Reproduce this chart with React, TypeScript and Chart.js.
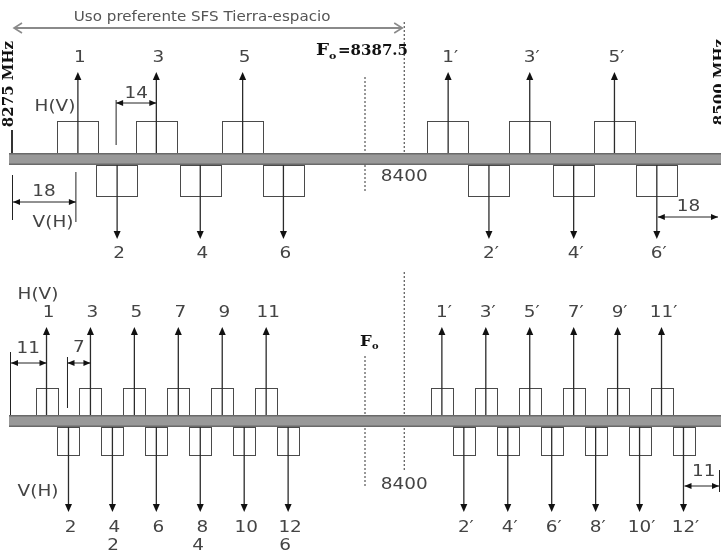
import React, { useEffect, useRef } from 'react';
import { Chart, registerables } from 'chart.js';

Chart.register(...registerables);

// ---- data (MHz) ----
const BAND_EDGES = [8275, 8500];
const CENTER_FREQ = 8387.5;
const MID_FREQ = 8400;
const PREFERRED_SPAN = [8275, 8400];
const PREFERRED_TEXT = 'Uso preferente SFS Tierra-espacio';

// Upper diagram: 14 MHz plan
const topLowerFreqs = [8296, 8308.5, 8321, 8335, 8348.5, 8361.5];
const topUpperFreqs = [8414, 8427, 8440, 8454, 8467, 8480.5];
const topLowerLabels = ['1', '2', '3', '4', '5', '6'];
const topUpperLabels = ['1′', '2′', '3′', '4′', '5′', '6′'];
const topBoxWidth = 13.2;
const topSpacingLabel = '14';
const topEdgeLabel = '18';

// Lower diagram: 7 MHz plan
const bottomLowerFreqs = [8286, 8293, 8300, 8307, 8314, 8321, 8328, 8335, 8342, 8349, 8356, 8363];
const bottomUpperFreqs = [8412, 8419, 8426, 8433, 8440, 8447, 8454, 8461, 8468, 8475, 8482, 8489];
const bottomLowerLabels = ['1', '2', '3', '4', '5', '6', '7', '8', '9', '10', '11', '12'];
const bottomUpperLabels = ['1′', '2′', '3′', '4′', '5′', '6′', '7′', '8′', '9′', '10′', '11′', '12′'];
const bottomBoxWidth = 7;
const bottomSpacingLabel = '7';
const bottomEdgeLabel = '11';
const bottomExtraLabels = ['2', '4', '6'];
const bottomExtraFreqs = [8307.2, 8334.3, 8362];

// ---- layout (vertical levels, in y-scale units) ----
const TOP = { barTop: 153, barBot: 165, upBox: 121, downBox: 196, upTip: 72, downTip: 239, upLabel: 58, downLabel: 254 };
const BOT = { barTop: 415, barBot: 427, upBox: 388, downBox: 455, upTip: 327, downTip: 512, upLabel: 313, downLabel: 528 };

const LINE = '#2b2b2b';
const BOX = '#4a4a4a';
const TEXT = '#444444';
const BAR = '#999999';
const BAR_EDGE = '#6a6a6a';
const SANS = '"DejaVu Sans", Verdana, sans-serif';
const SERIF = '"DejaVu Serif", "Liberation Serif", serif';
const SX = 1.15;

const diagramPlugin = {
  id: 'diagram',
  afterDatasetsDraw(chart: any) {
    const ctx: CanvasRenderingContext2D = chart.ctx;
    const xs = chart.scales.x;
    const ys = chart.scales.y;
    const X = (f: number) => xs.getPixelForValue(f);
    const Y = (v: number) => ys.getPixelForValue(v);
    const W = chart.width;

    const text = (s: string, x: number, y: number, size = 16, color = TEXT, align: CanvasTextAlign = 'center', font = SANS, weight = 'normal', sx = SX) => {
      ctx.save();
      ctx.translate(x, y);
      ctx.scale(sx, 1);
      ctx.font = `${weight} ${size}px ${font}`;
      ctx.fillStyle = color;
      ctx.textAlign = align;
      ctx.textBaseline = 'middle';
      ctx.fillText(s, 0, 0);
      ctx.restore();
    };
    const line = (x1: number, y1: number, x2: number, y2: number, color = LINE, w = 1, dash: number[] = []) => {
      ctx.save();
      ctx.strokeStyle = color;
      ctx.lineWidth = w;
      ctx.setLineDash(dash);
      ctx.beginPath();
      ctx.moveTo(x1, y1);
      ctx.lineTo(x2, y2);
      ctx.stroke();
      ctx.restore();
    };
    const head = (x: number, y: number, dir: 'up' | 'down' | 'left' | 'right', len = 8, half = 3.5) => {
      ctx.save();
      ctx.fillStyle = '#111';
      ctx.beginPath();
      if (dir === 'up') { ctx.moveTo(x, y); ctx.lineTo(x - half, y + len); ctx.lineTo(x + half, y + len); }
      if (dir === 'down') { ctx.moveTo(x, y); ctx.lineTo(x - half, y - len); ctx.lineTo(x + half, y - len); }
      if (dir === 'left') { ctx.moveTo(x, y); ctx.lineTo(x + len, y - half); ctx.lineTo(x + len, y + half); }
      if (dir === 'right') { ctx.moveTo(x, y); ctx.lineTo(x - len, y - half); ctx.lineTo(x - len, y + half); }
      ctx.closePath();
      ctx.fill();
      ctx.restore();
    };
    const dim = (x1: number, x2: number, y: number) => {
      line(x1, y, x2, y, '#222', 1);
      head(x1, y, 'left', 7, 3);
      head(x2, y, 'right', 7, 3);
    };

    const panel = (L: any, lowF: number[], upF: number[], lowLab: string[], upLab: string[], bw: number) => {
      const all = [...lowF.map((f, i) => ({ f, lab: lowLab[i], i })), ...upF.map((f, i) => ({ f, lab: upLab[i], i }))];
      all.forEach(({ f, lab, i }) => {
        const x = X(f);
        const xl = X(f - bw / 2);
        const xr = X(f + bw / 2);
        ctx.save();
        ctx.strokeStyle = BOX;
        ctx.lineWidth = 1;
        if (i % 2 === 0) {
          ctx.strokeRect(Math.round(xl) + 0.5, Y(L.upBox) + 0.5, Math.round(xr - xl), Y(L.barTop) - Y(L.upBox));
          ctx.restore();
          line(x, Y(L.barTop), x, Y(L.upTip) + 6, LINE, 1.3);
          head(x, Y(L.upTip), 'up');
          text(lab, x + 2, Y(L.upLabel));
        } else {
          ctx.strokeRect(Math.round(xl) + 0.5, Y(L.barBot) + 0.5, Math.round(xr - xl), Y(L.downBox) - Y(L.barBot));
          ctx.restore();
          line(x, Y(L.barBot), x, Y(L.downTip) - 6, LINE, 1.3);
          head(x, Y(L.downTip), 'down');
          text(lab, x + 2, Y(L.downLabel));
        }
      });
      const bx = X(BAND_EDGES[0]) - 3;
      ctx.fillStyle = BAR;
      ctx.fillRect(bx, Y(L.barTop), W, Y(L.barBot) - Y(L.barTop));
      ctx.fillStyle = BAR_EDGE;
      ctx.fillRect(bx, Y(L.barTop), W, 1.5);
      ctx.fillRect(bx, Y(L.barBot) - 1.5, W, 1.5);
    };

    // ---------- upper diagram ----------
    line(X(CENTER_FREQ), Y(77), X(CENTER_FREQ), Y(193), '#333', 1, [2, 2]);
    line(X(MID_FREQ), Y(22), X(MID_FREQ), Y(TOP.barTop), '#333', 1, [2, 2]);

    // preferred-use arrow
    const px1 = X(PREFERRED_SPAN[0]) + 2;
    const px2 = X(PREFERRED_SPAN[1]) - 2;
    line(px1, Y(28), px2, Y(28), '#8a8a8a', 2);
    ctx.save();
    ctx.strokeStyle = '#8a8a8a';
    ctx.lineWidth = 1.6;
    ctx.beginPath();
    ctx.moveTo(px1 + 8, Y(23)); ctx.lineTo(px1, Y(28)); ctx.lineTo(px1 + 8, Y(33));
    ctx.moveTo(px2 - 8, Y(23)); ctx.lineTo(px2, Y(28)); ctx.lineTo(px2 - 8, Y(33));
    ctx.stroke();
    ctx.restore();
    text(PREFERRED_TEXT, (px1 + px2) / 2 - 6, Y(17), 14, '#555', 'center', SANS, 'normal', 1.08);

    panel(TOP, topLowerFreqs, topUpperFreqs, topLowerLabels, topUpperLabels, topBoxWidth);

    // band edge marker
    line(X(BAND_EDGES[0]), Y(130), X(BAND_EDGES[0]), Y(TOP.barTop), '#333', 2);

    // F0 label
    const f0x = X(CENTER_FREQ) - 49;
    text('F', f0x, Y(51), 16, '#111', 'left', SERIF, 'bold', 1.15);
    text('o', f0x + 13, Y(56), 10, '#111', 'left', SERIF, 'bold', 1.1);
    text('=8387.5', f0x + 22, Y(51), 15, '#111', 'left', SERIF, 'bold', 1.0);

    // rotated band edge labels
    const vtext = (s: string, x: number, y: number) => {
      ctx.save();
      ctx.translate(x, y);
      ctx.rotate(-Math.PI / 2);
      ctx.font = `bold 15px ${SERIF}`;
      ctx.fillStyle = '#111';
      ctx.textAlign = 'center';
      ctx.textBaseline = 'middle';
      ctx.fillText(s, 0, 0);
      ctx.restore();
    };
    vtext(`${BAND_EDGES[0]} MHz`, X(BAND_EDGES[0]) - 3, Y(84));
    vtext(`${BAND_EDGES[1]} MHz`, X(BAND_EDGES[1]) + 2, Y(82));

    // H(V) / V(H)
    text('H(V)', 55, Y(107));
    text('V(H)', 53, Y(223));

    // 14 MHz spacing dimension
    const c2 = X(topLowerFreqs[1]) - 1;
    const c3 = X(topLowerFreqs[2]);
    line(c2, Y(100), c2, Y(145), '#222', 1);
    dim(c2, c3, Y(103));
    text(topSpacingLabel, (c2 + c3) / 2, Y(94));

    // 18 MHz edge dimensions
    const e0 = X(BAND_EDGES[0]);
    const c1 = X(topLowerFreqs[0]) - 2;
    line(e0 + 0.5, Y(175), e0 + 0.5, Y(220), '#222', 1);
    line(c1, Y(172), c1, Y(222), '#222', 1);
    dim(e0 + 1, c1, Y(202));
    text(topEdgeLabel, (e0 + c1) / 2, Y(192));

    const c6 = X(topUpperFreqs[5]);
    const e1 = X(BAND_EDGES[1]);
    dim(c6 + 1, e1, Y(217));
    text(topEdgeLabel, (c6 + e1) / 2 + 1, Y(207));

    text(String(MID_FREQ), X(MID_FREQ), Y(177));

    // ---------- lower diagram ----------
    line(X(CENTER_FREQ), Y(356), X(CENTER_FREQ), Y(488), '#333', 1, [2, 2]);
    line(X(MID_FREQ), Y(272), X(MID_FREQ), Y(472), '#333', 1, [2, 2]);

    panel(BOT, bottomLowerFreqs, bottomUpperFreqs, bottomLowerLabels, bottomUpperLabels, bottomBoxWidth);

    text('F', X(CENTER_FREQ) - 5, Y(342), 15, '#111', 'left', SERIF, 'bold', 1.1);
    text('o', X(CENTER_FREQ) + 7, Y(347), 9, '#111', 'left', SERIF, 'bold', 1.1);

    text('H(V)', 38, Y(295));
    text('V(H)', 38, Y(492));

    // 11 MHz edge dimension (left)
    const b0 = X(BAND_EDGES[0]) - 2;
    const b1 = X(bottomLowerFreqs[0]);
    line(b0 + 0.5, Y(352), b0 + 0.5, Y(BOT.barTop), '#222', 1);
    dim(b0 + 1, b1, Y(363));
    text(bottomEdgeLabel, (b0 + b1) / 2, Y(349));

    // 7 MHz spacing dimension
    const d2 = X(bottomLowerFreqs[1]) - 1;
    const d3 = X(bottomLowerFreqs[2]);
    line(d2, Y(357), d2, Y(408), '#222', 1);
    dim(d2, d3, Y(363));
    text(bottomSpacingLabel, (d2 + d3) / 2, Y(348));

    // 11 MHz edge dimension (right)
    const d12 = X(bottomUpperFreqs[11]);
    const bE = X(BAND_EDGES[1]) + 2;
    line(bE - 0.5, Y(470), bE - 0.5, Y(492), '#222', 1);
    dim(d12 + 1, bE - 1, Y(486));
    text(bottomEdgeLabel, (d12 + bE) / 2 + 2, Y(472));

    text(String(MID_FREQ), X(MID_FREQ), Y(485));

    bottomExtraLabels.forEach((s, i) => text(s, X(bottomExtraFreqs[i]), Y(546)));
  },
};

export default function App() {
  const ref = useRef<HTMLCanvasElement>(null);
  useEffect(() => {
    document.body.style.margin = '0';
    const canvas = ref.current!;
    const chart = new Chart(canvas, {
      type: 'scatter',
      data: {
        datasets: [
          { data: [...topLowerFreqs, ...topUpperFreqs].map((f) => ({ x: f, y: TOP.barTop })), pointRadius: 0, showLine: false },
          { data: [...bottomLowerFreqs, ...bottomUpperFreqs].map((f) => ({ x: f, y: BOT.barTop })), pointRadius: 0, showLine: false },
        ],
      },
      options: {
        responsive: false,
        animation: false,
        devicePixelRatio: 1,
        layout: { padding: { left: 12, right: 3, top: 0, bottom: 0 } },
        plugins: { legend: { display: false }, tooltip: { enabled: false } },
        events: [],
        scales: {
          x: { type: 'linear', min: BAND_EDGES[0], max: BAND_EDGES[1], display: false },
          y: { type: 'linear', min: 0, max: 553, reverse: true, display: false },
        },
      },
      plugins: [diagramPlugin],
    });
    return () => chart.destroy();
  }, []);
  return (
    <div style={{ width: 721, height: 553, background: '#fff' }}>
      <canvas ref={ref} width={721} height={553} style={{ display: 'block' }} />
    </div>
  );
}
